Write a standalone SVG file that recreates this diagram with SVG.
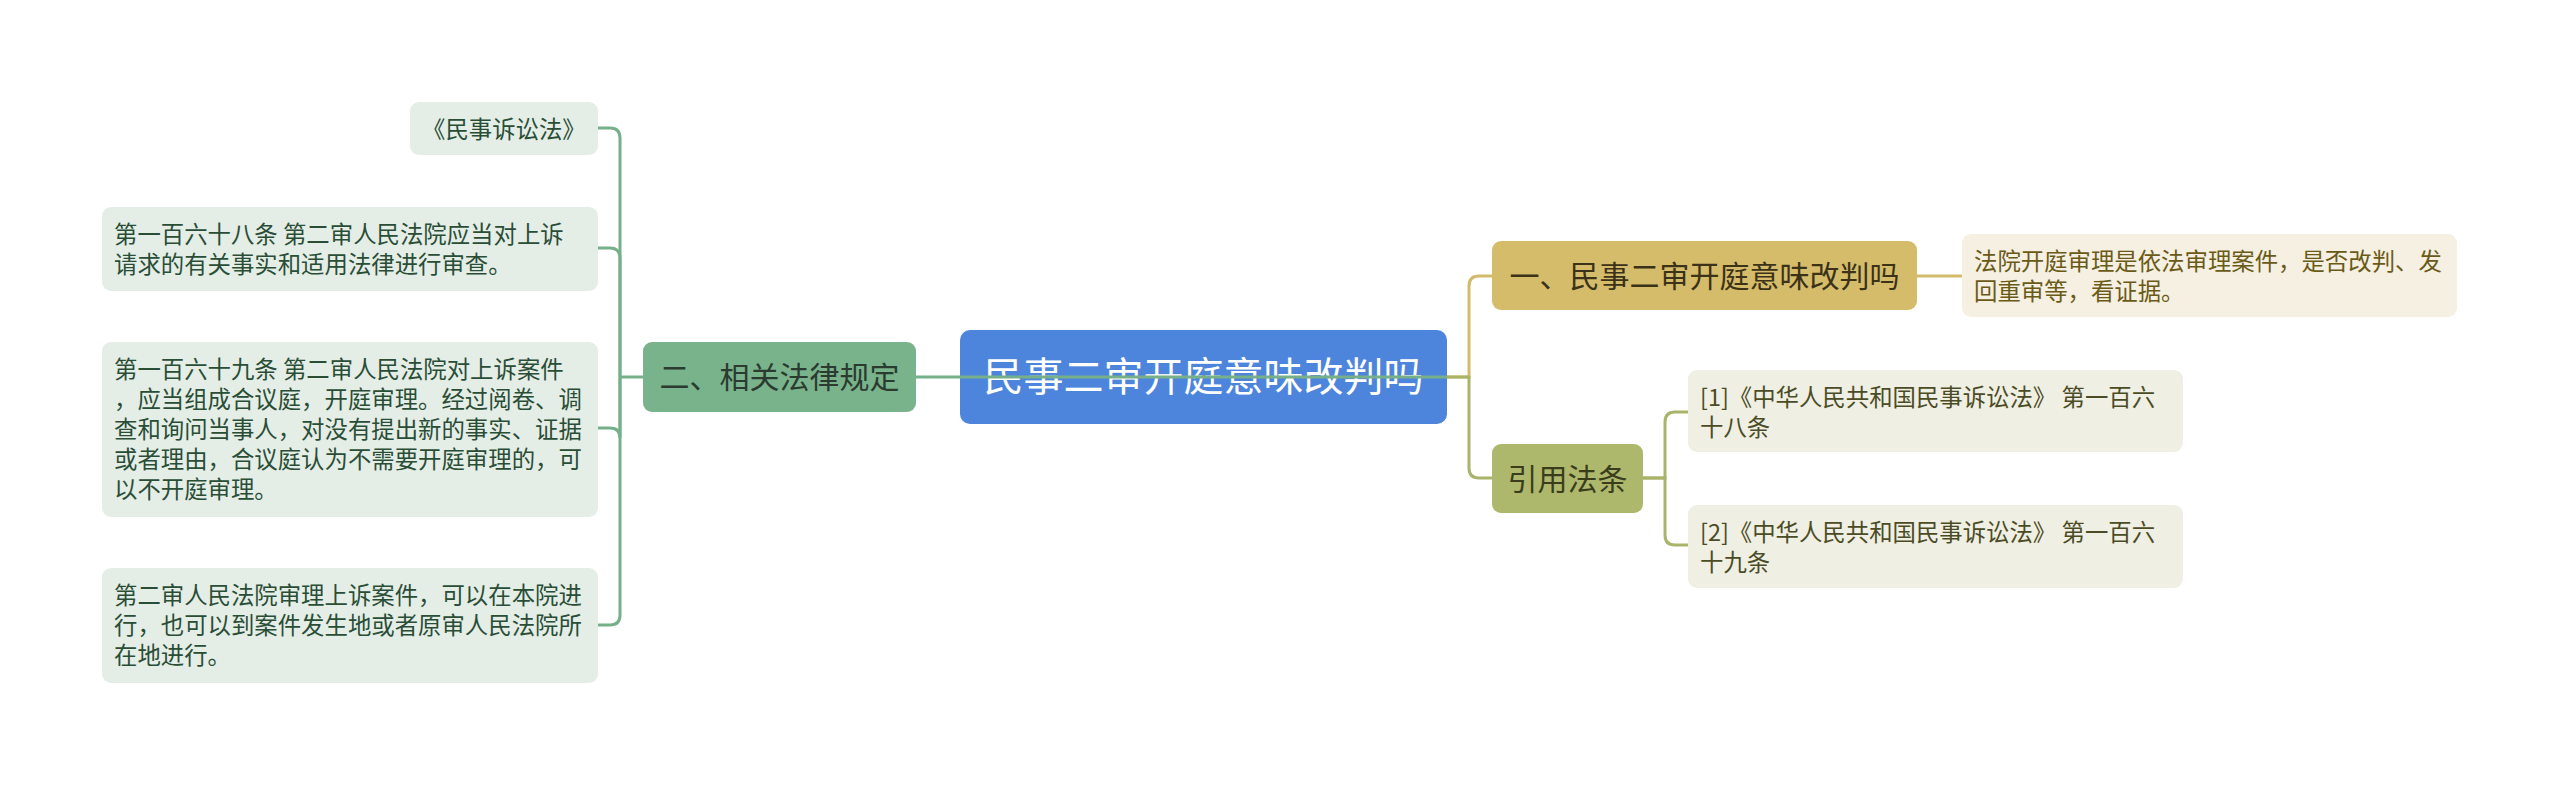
<svg xmlns="http://www.w3.org/2000/svg" width="2560" height="785" viewBox="0 0 2560 785">
<style>
text{font-family:"Noto Sans CJK SC","Noto Sans",sans-serif;}
.leafL{fill:#e4eee7;}
.tL{font-size:23.4px;fill:#2a4d36;}
.l2g{fill:#79b38c;}
.t2{font-size:30px;}
.title{font-size:40px;fill:#ffffff;}
.gold{fill:#d5bc6b;}
.olive{fill:#adb86c;}
.leafY{fill:#f5f0e1;}
.leafO{fill:#efefe3;}
.tY{font-size:23.4px;fill:#6b5a17;}
.tO{font-size:23.4px;fill:#4b4c25;}
.cg{fill:none;stroke:#76b08a;stroke-width:3;}
.cy{fill:none;stroke:#d3bb6b;stroke-width:3;}
.co{fill:none;stroke:#a9b46a;stroke-width:3;}
</style>
<rect width="2560" height="785" fill="#ffffff"/>

<g id="center">
<rect x="960" y="330" width="487" height="94" rx="10" fill="#4e85dc"/>
<text class="title" x="1203.5" y="391" text-anchor="middle">民事二审开庭意味改判吗</text>
</g>

<g id="n-law">
<rect class="l2g" x="643" y="342" width="273" height="70" rx="9"/>
<text class="t2" x="779.5" y="388" text-anchor="middle" fill="#2b3b2f">二、相关法律规定</text>
</g>

<g id="n-l1">
<rect class="leafL" x="410" y="102" width="188" height="53" rx="9"/>
<text class="tL" x="422" y="138">《民事诉讼法》</text>
</g>

<g id="n-l2">
<rect class="leafL" x="102" y="207" width="496" height="84" rx="9"/>
<text class="tL" x="114" y="243">第一百六十八条 第二审人民法院应当对上诉</text>
<text class="tL" x="114" y="273">请求的有关事实和适用法律进行审查。</text>
</g>

<g id="n-l3">
<rect class="leafL" x="102" y="342" width="496" height="175" rx="9"/>
<text class="tL" x="114" y="378">第一百六十九条 第二审人民法院对上诉案件</text>
<text class="tL" x="114" y="408">，应当组成合议庭，开庭审理。经过阅卷、调</text>
<text class="tL" x="114" y="438">查和询问当事人，对没有提出新的事实、证据</text>
<text class="tL" x="114" y="468">或者理由，合议庭认为不需要开庭审理的，可</text>
<text class="tL" x="114" y="498">以不开庭审理。</text>
</g>

<g id="n-l4">
<rect class="leafL" x="102" y="568" width="496" height="115" rx="9"/>
<text class="tL" x="114" y="604">第二审人民法院审理上诉案件，可以在本院进</text>
<text class="tL" x="114" y="634">行，也可以到案件发生地或者原审人民法院所</text>
<text class="tL" x="114" y="664">在地进行。</text>
</g>

<g id="n-q1">
<rect class="gold" x="1492" y="241" width="425" height="69" rx="9"/>
<text class="t2" x="1704.5" y="287" text-anchor="middle" fill="#3b3217">一、民事二审开庭意味改判吗</text>
</g>

<g id="n-q1a">
<rect class="leafY" x="1962" y="234" width="495" height="83" rx="9"/>
<text class="tY" x="1974" y="270">法院开庭审理是依法审理案件，是否改判、发</text>
<text class="tY" x="1974" y="300">回重审等，看证据。</text>
</g>

<g id="n-cite">
<rect class="olive" x="1492" y="444" width="151" height="69" rx="9"/>
<text class="t2" x="1567.5" y="490" text-anchor="middle" fill="#3a3d1c">引用法条</text>
</g>

<g id="n-c1">
<rect class="leafO" x="1688" y="370" width="495" height="82" rx="9"/>
<text class="tO" x="1700" y="406">[1]《中华人民共和国民事诉讼法》 第一百六</text>
<text class="tO" x="1700" y="436">十八条</text>
</g>

<g id="n-c2">
<rect class="leafO" x="1688" y="505" width="495" height="83" rx="9"/>
<text class="tO" x="1700" y="541">[2]《中华人民共和国民事诉讼法》 第一百六</text>
<text class="tO" x="1700" y="571">十九条</text>
</g>

<g id="connectors">
<path class="cg" d="M1447 377 H916"/>
<path class="cg" d="M643 377 H620"/>
<path class="cg" d="M620 377 V138 Q620 128 610 128 H598"/>
<path class="cg" d="M620 377 V258 Q620 248 610 248 H598"/>
<path class="cg" d="M620 377 V438 Q620 428 610 428 H598"/>
<path class="cg" d="M620 377 V615 Q620 625 610 625 H598"/>
<path class="cy" d="M1447 377 H1469 V286 Q1469 276 1479 276 H1492"/>
<path class="co" d="M1447 377 H1469 V468 Q1469 478 1479 478 H1492"/>
<path class="cy" d="M1917 276 H1962"/>
<path class="co" d="M1643 478 H1665 V422 Q1665 412 1675 412 H1688"/>
<path class="co" d="M1643 478 H1665 V535 Q1665 545 1675 545 H1688"/>
</g>
</svg>
